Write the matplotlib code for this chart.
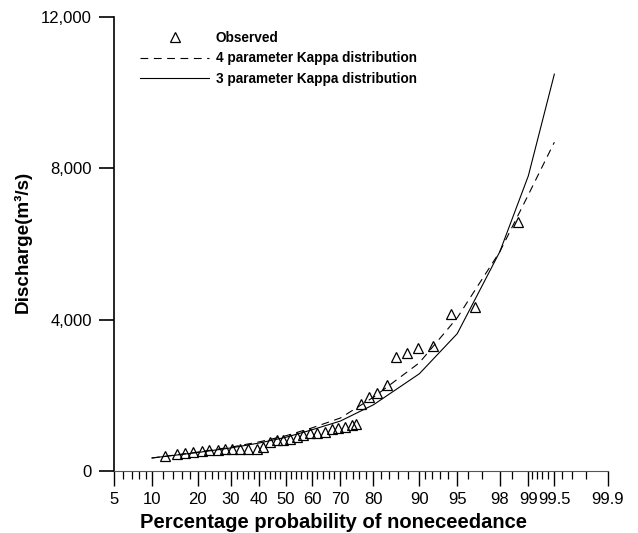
import numpy as np
import matplotlib.pyplot as plt
from statistics import NormalDist

plt.rcParams['font.family'] = ['Liberation Sans', 'DejaVu Sans']

# observed annual peaks (plotting position %, discharge m3/s)
obs_p = [12.4, 14.9, 16.7, 18.7, 21.1, 23.1, 25.8, 28.0, 30.3, 33.1,
         35.9, 39.2, 41.4, 44.2, 46.7, 49.0, 51.6, 54.3, 56.6, 59.2,
         61.8, 64.7, 67.2, 69.2, 71.5, 73.8, 75.0, 76.5, 78.8, 80.9,
         83.4, 85.5, 87.8, 89.8, 92.1, 94.3, 96.5, 98.7]
obs_q = [397, 437, 464, 490, 517, 543, 556, 570, 570, 583,
         583, 583, 636, 768, 821, 821, 848, 901, 954, 1007,
         1007, 1033, 1113, 1139, 1166, 1219, 1245, 1775, 1960, 2066,
         2278, 3020, 3126, 3258, 3311, 4159, 4344, 6570]

# fitted quantiles
fit_p = [10, 20, 30, 40, 50, 60, 70, 80, 90, 95, 98, 99, 99.5]
kappa4_q = [344, 500, 630, 770, 930, 1140, 1400, 1950, 2860, 4050, 5800, 7300, 8690]
kappa3_q = [344, 490, 610, 740, 890, 1090, 1320, 1750, 2570, 3630, 5800, 7800, 10490]

major_ticks = [5, 10, 20, 30, 40, 50, 60, 70, 80, 90, 95, 98, 99, 99.5, 99.9]
major_labels = ['5', '10', '20', '30', '40', '50', '60', '70', '80', '90',
                '95', '98', '99', '99.5', '99.9']
minor_ticks = [6, 7, 8, 9, 12, 14, 16, 18, 22, 24, 26, 28, 32, 34, 36, 38,
               42, 44, 46, 48, 52, 54, 56, 58, 62, 64, 66, 68, 72, 74, 76, 78,
               82, 84, 86, 88, 91, 92, 93, 94, 96, 97, 98.5,
               99.1, 99.2, 99.3, 99.4, 99.6, 99.7, 99.8]
y_ticks = [0, 4000, 8000, 12000]
y_labels = ['0', '4,000', '8,000', '12,000']

nd = NormalDist()


def _z(v):
    if not np.isfinite(v):
        return np.nan
    return nd.inv_cdf(min(max(v, 1e-4), 100 - 1e-4) / 100.0)


def _p(v):
    if not np.isfinite(v):
        return np.nan
    return 100.0 * nd.cdf(v)


to_z = np.vectorize(_z, otypes=[float])
to_p = np.vectorize(_p, otypes=[float])

fig = plt.figure(figsize=(6.38, 5.33), dpi=100)
ax = fig.add_axes([0.1787, 0.1163, 0.7743, 0.8518])
ax.set_xscale('function', functions=(to_z, to_p))

ax.plot(obs_p, obs_q, linestyle='none', marker='^', ms=6.5, mfc='none',
        mec='black', mew=0.9, label='Observed')
ax.plot(fit_p, kappa4_q, color='black', lw=0.8, linestyle=(0, (7, 5)),
        label='4 parameter Kappa distribution')
ax.plot(fit_p, kappa3_q, color='black', lw=0.8,
        label='3 parameter Kappa distribution')

ax.set_xlim(5, 99.9)
ax.set_ylim(0, 12000)
ax.set_xticks(major_ticks, major_labels)
ax.set_xticks(minor_ticks, minor=True)
ax.set_yticks(y_ticks, y_labels)

for s in ['top', 'right']:
    ax.spines[s].set_visible(False)
ax.spines['left'].set_linewidth(1.2)
ax.spines['bottom'].set_linewidth(0.8)
ax.spines['bottom'].set_color('#555555')

ax.tick_params(axis='y', direction='out', length=11, width=1.2, pad=5,
               labelsize=12)
ax.tick_params(axis='x', which='major', direction='out', length=11,
               width=1.0, pad=4, labelsize=12)
ax.tick_params(axis='x', which='minor', direction='out', length=6, width=0.9)

ax.set_xlabel('Percentage probability of noneceedance', fontsize=14.5,
              fontweight='bold')
ax.xaxis.set_label_coords(0.445, -0.092)
ax.set_ylabel('Discharge(m³/s)', fontsize=13.6, fontweight='bold')
ax.yaxis.set_label_coords(-0.166, 0.505)

ax.legend(loc='upper left', bbox_to_anchor=(0.0526, 0.9695), frameon=False,
          borderpad=0, borderaxespad=0, handlelength=5.1, handletextpad=0.45,
          labelspacing=0.48, numpoints=1,
          prop={'size': 9.8, 'weight': 'bold'})

fig.savefig('out.png', dpi=100)
